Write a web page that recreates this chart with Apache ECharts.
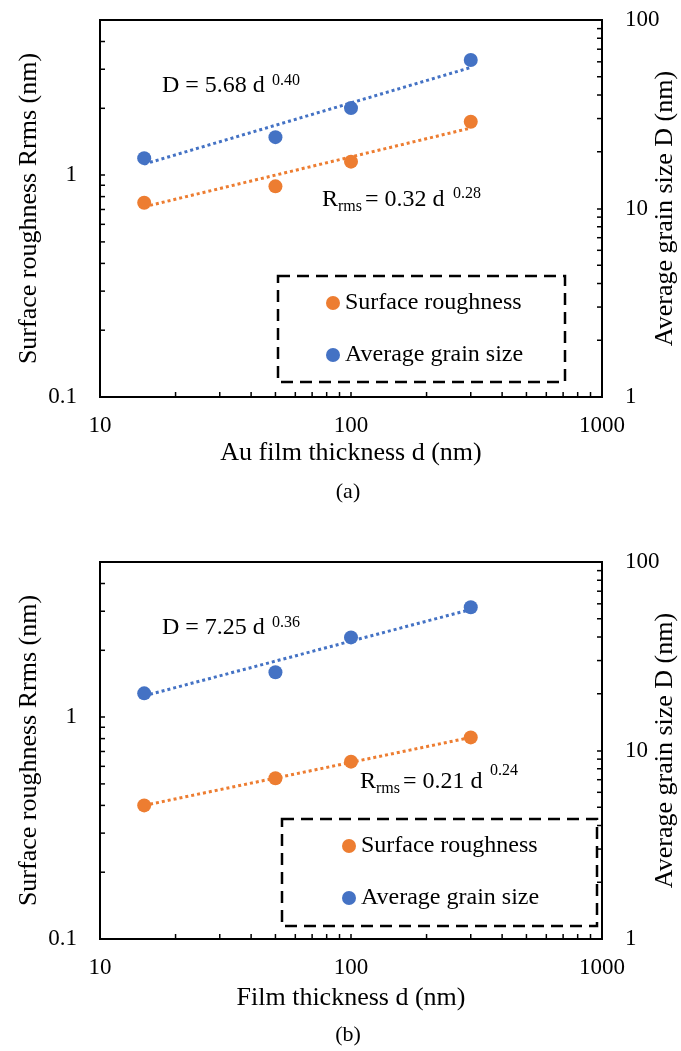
<!DOCTYPE html>
<html><head><meta charset="utf-8">
<script src="https://cdn.jsdelivr.net/npm/echarts@6/dist/echarts.min.js"></script>
<style>html,body{margin:0;padding:0;background:#fff}#c{width:681px;height:1051px}</style>
</head><body><div id="c"></div>
<script>
const thickness = [15, 50, 100, 300];
const roughnessA = [0.75, 0.89, 1.15, 1.74];
const grainSizeA = [18.5, 23.9, 34.1, 61.3];
const roughnessB = [0.40, 0.53, 0.63, 0.81];
const grainSizeB = [20.1, 26.0, 39.8, 57.5];
const trendThickness = [15, 300];
const roughnessTrendA = [0.72, 1.63];
const grainSizeTrendA = [17.2, 56.0];
const roughnessTrendB = [0.40, 0.81];
const grainSizeTrendB = [19.5, 56.0];
const xMinorTicks = [20, 30, 40, 50, 60, 70, 80, 90, 200, 300, 400, 500, 600, 700, 800, 900];
const leftMinorTicks = [0.2, 0.3, 0.4, 0.5, 0.6, 0.7, 0.8, 0.9, 2, 3, 4];
const rightMinorTicks = [2, 3, 4, 5, 6, 7, 8, 9, 20, 30, 40, 50, 60, 70, 80, 90];
const xTickLabels = ['10', '100', '1000'];
const leftTickLabels = ['0.1', '1'];
const rightTickLabels = ['1', '10', '100'];
const seriesNames = ['Surface roughness', 'Average grain size'];

const FONT = '"Liberation Serif", "Times New Roman", serif';
const ORANGE = '#ED7D31';
const BLUE = '#4472C4';

function fmt(labels) {
  return function (v) {
    for (const l of labels) {
      if (Math.abs(Math.log10(v) - Math.log10(+l)) < 1e-6) return l;
    }
    return '';
  };
}

const grids = [
  { left: 100, top: 20, width: 502, height: 377, show: true, borderColor: '#000', borderWidth: 2,
    containLabel: false, outerBoundsMode: 'none' },
  { left: 100, top: 562, width: 502, height: 377, show: true, borderColor: '#000', borderWidth: 2,
    containLabel: false, outerBoundsMode: 'none' }
];

function xAxis(gi, name, gap) {
  return {
    type: 'log', logBase: 10, min: 10, max: 1000, gridIndex: gi,
    name: name, nameLocation: 'middle', nameGap: gap, nameMoveOverlap: false,
    nameTextStyle: { fontFamily: FONT, fontSize: 26, color: '#000' },
    axisLine: { show: true, lineStyle: { color: '#000', width: 2 } },
    axisTick: { show: true, inside: true, length: 5, lineStyle: { color: '#000', width: 1.5 } },
    axisLabel: { fontFamily: FONT, fontSize: 23, color: '#000', margin: 17, formatter: fmt(xTickLabels) },
    splitLine: { show: false }
  };
}
function yLeft(gi) {
  return {
    type: 'log', logBase: 10, min: 0.1, max: 5, gridIndex: gi, position: 'left',
    name: 'Surface roughness Rrms (nm)', nameLocation: 'middle', nameGap: 58, nameRotate: 90,
    nameMoveOverlap: false,
    nameTextStyle: { fontFamily: FONT, fontSize: 26, color: '#000' },
    axisLine: { show: true, lineStyle: { color: '#000', width: 2 } },
    axisTick: { show: true, inside: true, length: 5, lineStyle: { color: '#000', width: 1.5 } },
    axisLabel: { fontFamily: FONT, fontSize: 23, color: '#000', margin: 23, formatter: fmt(leftTickLabels) },
    splitLine: { show: false }
  };
}
function yRight(gi) {
  return {
    type: 'log', logBase: 10, min: 1, max: 100, gridIndex: gi, position: 'right',
    name: 'Average grain size D (nm)', nameLocation: 'middle', nameGap: 50, nameRotate: 90,
    nameMoveOverlap: false,
    nameTextStyle: { fontFamily: FONT, fontSize: 26, color: '#000' },
    axisLine: { show: true, lineStyle: { color: '#000', width: 2 } },
    axisTick: { show: true, inside: true, length: 5, lineStyle: { color: '#000', width: 1.5 } },
    axisLabel: { fontFamily: FONT, fontSize: 23, color: '#000', margin: 23, formatter: fmt(rightTickLabels) },
    splitLine: { show: false }
  };
}

function scatter(name, color, xi, yi, ys) {
  return {
    type: 'scatter', name: name, xAxisIndex: xi, yAxisIndex: yi, symbol: 'circle', symbolSize: 14,
    itemStyle: { color: color, opacity: 1 }, z: 5,
    data: thickness.map((x, i) => [x, ys[i]])
  };
}
function trend(name, color, xi, yi, ys) {
  return {
    type: 'line', name: name, xAxisIndex: xi, yAxisIndex: yi, symbol: 'none', z: 3, silent: true,
    lineStyle: { color: color, width: 3, type: [3, 3] },
    data: trendThickness.map((x, i) => [x, ys[i]])
  };
}
function minorTicks(xi, yi, kind, values) {
  let data;
  if (kind === 'x') data = values.map(v => [v, 0.1]);
  else if (kind === 'left') data = values.map(v => [10, v]);
  else data = values.map(v => [1000, v]);
  return {
    type: 'custom', xAxisIndex: xi, yAxisIndex: yi, silent: true, z: 4, clip: false,
    data: data,
    renderItem: function (params, api) {
      const p = api.coord([api.value(0), api.value(1)]);
      let x2 = p[0], y2 = p[1];
      if (kind === 'x') y2 = p[1] - 5;
      else if (kind === 'left') x2 = p[0] + 5;
      else x2 = p[0] - 5;
      return { type: 'line', shape: { x1: p[0], y1: p[1], x2: x2, y2: y2 }, style: { stroke: '#000', lineWidth: 1.5 } };
    }
  };
}

function txt(x, y, s, size, align) {
  return { type: 'text', x: x, y: y, z: 10,
    style: { text: s, font: size + 'px ' + FONT, fill: '#000', align: align || 'left', verticalAlign: 'middle' } };
}

const option = {
  backgroundColor: '#fff',
  animation: false,
  grid: grids,
  xAxis: [xAxis(0, 'Au film thickness d (nm)', 43), xAxis(1, 'Film thickness d (nm)', 46)],
  yAxis: [yLeft(0), yRight(0), yLeft(1), yRight(1)],
  legend: [
    { data: seriesNames, orient: 'vertical', left: 326, top: 291, padding: 0, itemGap: 28,
      icon: 'circle', itemWidth: 14, itemHeight: 14,
      textStyle: { fontFamily: FONT, fontSize: 24, color: '#000', lineHeight: 24 } },
    { data: seriesNames, orient: 'vertical', left: 342, top: 834, padding: 0, itemGap: 28,
      icon: 'circle', itemWidth: 14, itemHeight: 14,
      textStyle: { fontFamily: FONT, fontSize: 24, color: '#000', lineHeight: 24 } }
  ],
  series: [
    trend('trendRa', ORANGE, 0, 0, roughnessTrendA),
    trend('trendDa', BLUE, 0, 1, grainSizeTrendA),
    scatter(seriesNames[0], ORANGE, 0, 0, roughnessA),
    scatter(seriesNames[1], BLUE, 0, 1, grainSizeA),
    trend('trendRb', ORANGE, 1, 2, roughnessTrendB),
    trend('trendDb', BLUE, 1, 3, grainSizeTrendB),
    scatter(seriesNames[0], ORANGE, 1, 2, roughnessB),
    scatter(seriesNames[1], BLUE, 1, 3, grainSizeB),
    minorTicks(0, 0, 'x', xMinorTicks),
    minorTicks(0, 0, 'left', leftMinorTicks),
    minorTicks(0, 1, 'right', rightMinorTicks),
    minorTicks(1, 2, 'x', xMinorTicks),
    minorTicks(1, 2, 'left', leftMinorTicks),
    minorTicks(1, 3, 'right', rightMinorTicks)
  ],
  graphic: [
    { type: 'rect', shape: { x: 278, y: 276, width: 287, height: 106 }, z: 1,
      style: { fill: 'none', stroke: '#000', lineWidth: 2.5, lineDash: [12, 7] } },
    { type: 'rect', shape: { x: 282, y: 819, width: 315, height: 107 }, z: 1,
      style: { fill: 'none', stroke: '#000', lineWidth: 2.5, lineDash: [12, 7] } },
    txt(162, 86, 'D = 5.68 d', 24),
    txt(272, 81, '0.40', 16),
    txt(322, 200, 'R', 24),
    txt(338, 207, 'rms', 16),
    txt(365, 200, '= 0.32 d', 24),
    txt(453, 194, '0.28', 16),
    txt(162, 628, 'D = 7.25 d', 24),
    txt(272, 623, '0.36', 16),
    txt(360, 782, 'R', 24),
    txt(376, 789, 'rms', 16),
    txt(403, 782, '= 0.21 d', 24),
    txt(490, 771, '0.24', 16),
    txt(348, 492, '(a)', 22, 'center'),
    txt(348, 1035, '(b)', 22, 'center')
  ]
};

const chart = echarts.init(document.getElementById('c'), null, { renderer: 'canvas' });
chart.setOption(option);
</script>
</body></html>
